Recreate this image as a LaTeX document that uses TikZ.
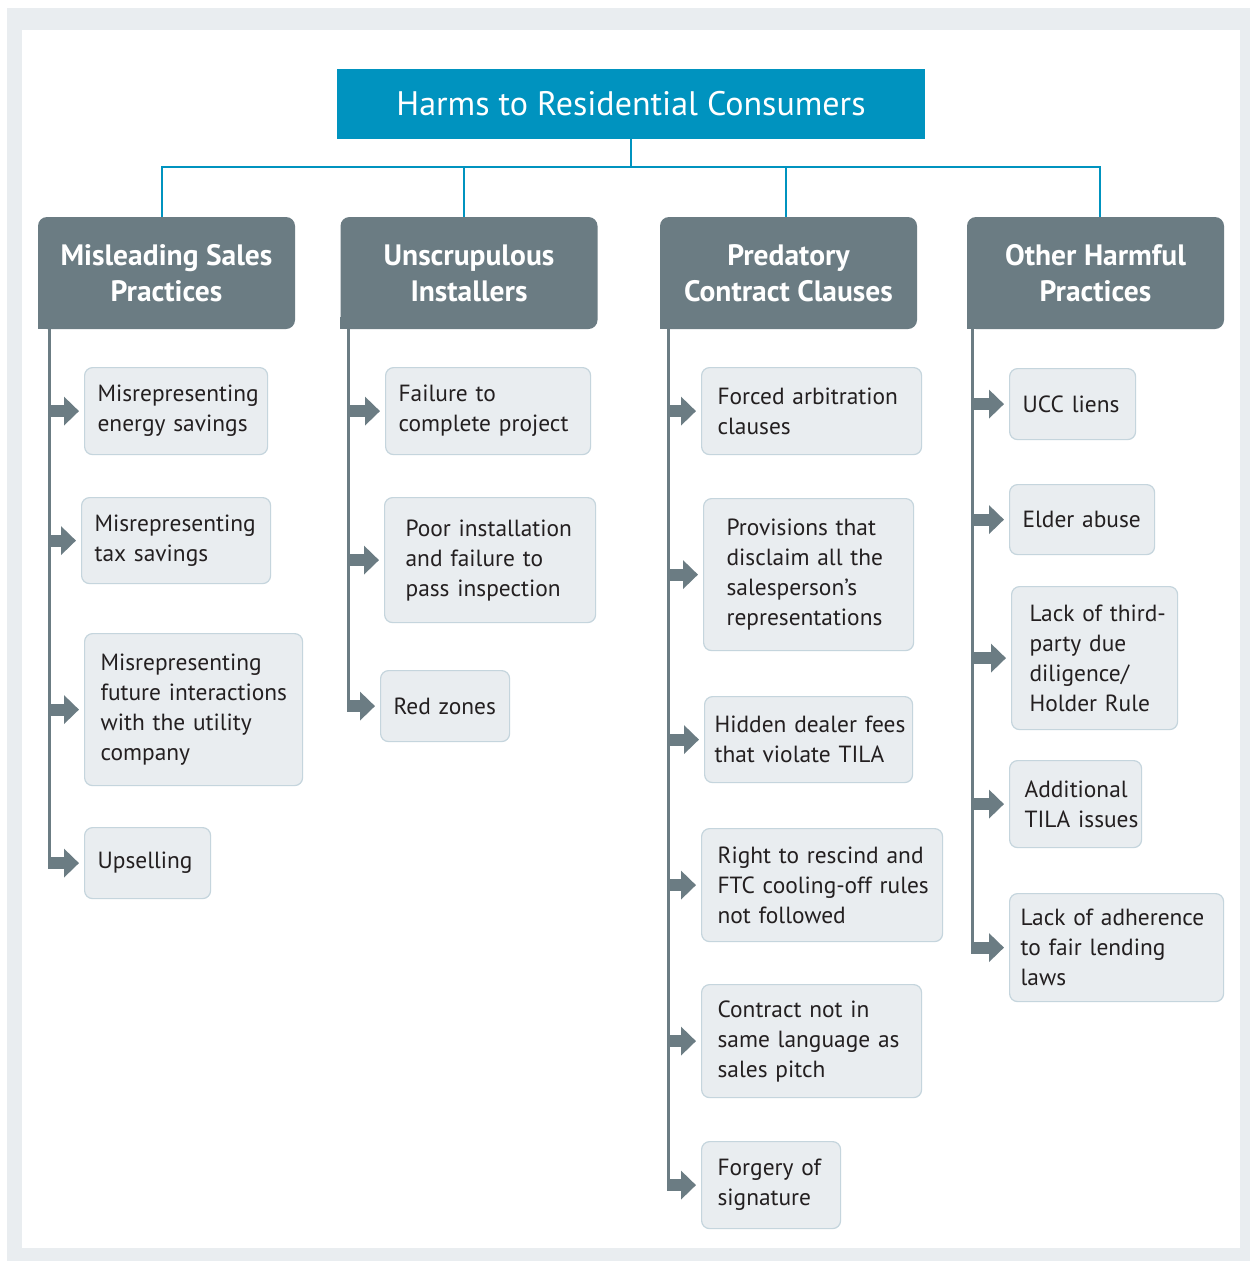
\documentclass[tikz,border=0pt]{standalone}
\usepackage{fontspec}
\setmainfont{PT Sans}
\usetikzlibrary{arrows.meta}

\definecolor{titleblue}{RGB}{0,147,191}
\definecolor{headgray}{RGB}{107,124,131}
\definecolor{leaffill}{RGB}{233,237,240}
\definecolor{leafline}{RGB}{197,213,221}
\definecolor{framegray}{RGB}{233,237,240}
\definecolor{textdark}{RGB}{35,31,32}

\tikzset{
  root/.style={fill=titleblue, text=white, minimum width=588pt, minimum height=70pt,
    font=\fontsize{34}{40}\selectfont},
  head/.style={fill=headgray, text=white, rounded corners=9pt, minimum width=257pt,
    minimum height=112pt, align=center, font=\bfseries\fontsize{29.5}{36}\selectfont},
  % lines are broken by hand only, so let them run a little long instead of wrapping
  leaf/.style={fill=leaffill, draw=leafline, line width=1.2pt, rounded corners=8pt,
    anchor=north west, inner xsep=13pt, text=textdark,
    font=\fontsize{23.4}{30}\selectfont,
    execute at begin node={\rightskip=0pt plus 1fil minus 30pt\linepenalty=5000
      \hyphenpenalty=10000\exhyphenpenalty=10000}},
  bus/.style={draw=titleblue, line width=2.5pt},
  stem/.style={draw=headgray, line width=3pt},
  feed/.style={draw=headgray, line width=12pt, -{Triangle[length=15pt,width=28pt]},
    shorten >=5pt},
}

\begin{document}
\begin{tikzpicture}[x=1pt, y=-1pt]
  \useasboundingbox (0,0) rectangle (1250,1261);
  \fill[framegray] (7,8) rectangle (1250,1261);
  \fill[white] (22,30) rectangle (1240,1248);

  \node[root] (root) at (631,104) {Harms to Residential Consumers};

  \node[head] (h1) at (166.5,273) {Misleading Sales\\Practices};
  \node[head] (h2) at (469,273) {Unscrupulous\\Installers};
  \node[head] (h3) at (788.5,273) {Predatory\\Contract Clauses};
  \node[head] (h4) at (1095.5,273) {Other Harmful\\Practices};

  % square corner where the stem leaves each header
  \fill[headgray] (h1.south west) rectangle ++(12,-12);
  \fill[headgray] (h2.south west) rectangle ++(12,-12);
  \fill[headgray] (h3.south west) rectangle ++(12,-12);
  \fill[headgray] (h4.south west) rectangle ++(12,-12);

  \draw[bus] (root.south) -- ++(0,28) -| ([xshift=-4.5pt]h1.north);
  \draw[bus] (root.south) -- ++(0,28) -| ([xshift=-5pt]h2.north);
  \draw[bus] (root.south) -- ++(0,28) -| ([xshift=-2.5pt]h3.north);
  \draw[bus] (root.south) -- ++(0,28) -| ([xshift=4.5pt]h4.north);

  % misleading sales practices
  \node[leaf, text width=157pt, minimum height=87pt] (m1) at (84,367) {Misrepresenting\\energy savings};
  \node[leaf, text width=163pt, minimum height=86pt] (m2) at (81,497) {Misrepresenting\\tax savings};
  \node[leaf, inner xsep=16pt, text width=186pt, minimum height=152pt] (m3) at (84,633) {Misrepresenting\\future interactions\\with the utility\\company};
  \node[leaf, text width=100pt, minimum height=71pt] (m4) at (84,827) {Upselling};

  % unscrupulous installers
  \node[leaf, text width=179pt, minimum height=87pt] (u1) at (385,367) {Failure to\\complete project};
  \node[leaf, inner xsep=21pt, text width=169pt, minimum height=125pt] (u2) at (384,497) {Poor installation\\and failure to\\pass inspection};
  \node[leaf, text width=103pt, minimum height=71pt] (u3) at (380,670) {Red zones};

  % predatory contract clauses
  \node[leaf, inner xsep=16pt, text width=188pt, minimum height=87pt] (p1) at (701,367) {Forced arbitration\\clauses};
  \node[leaf, inner xsep=23pt, text width=164pt, minimum height=152pt] (p2) at (703,498) {Provisions that\\disclaim all the\\salesperson's\\representations};
  \node[leaf, inner xsep=10pt, text width=188pt, minimum height=86pt] (p3) at (704,696) {Hidden dealer fees\\that violate TILA};
  \node[leaf, inner xsep=16pt, text width=209pt, minimum height=113pt] (p4) at (701,828) {Right to rescind and\\FTC cooling-off rules\\not followed};
  \node[leaf, inner xsep=16pt, text width=188pt, minimum height=113pt] (p5) at (701,984) {Contract not in\\same language as\\sales pitch};
  \node[leaf, inner xsep=16pt, text width=107pt, minimum height=87pt] (p6) at (701,1141) {Forgery of\\signature};

  % other harmful practices
  \node[leaf, text width=100pt, minimum height=71pt] (o1) at (1009,368) {UCC liens};
  \node[leaf, text width=119pt, minimum height=70pt] (o2) at (1009,484) {Elder abuse};
  \node[leaf, inner xsep=18pt, text width=130pt, minimum height=143pt] (o3) at (1011,586) {Lack of third-\\party due\\diligence/\\Holder Rule};
  \node[leaf, inner xsep=15pt, text width=102pt, minimum height=87pt] (o4) at (1009,760) {Additional\\TILA issues};
  \node[leaf, inner xsep=11pt, text width=192pt, minimum height=108pt] (o5) at (1009,893) {Lack of adherence\\to fair lending\\laws};

  \coordinate (s1) at ([xshift=11.5pt]h1.south west);
  \coordinate (s2) at ([xshift=8pt]h2.south west);
  \coordinate (s3) at ([xshift=8.5pt]h3.south west);
  \coordinate (s4) at ([xshift=6pt]h4.south west);

  \draw[stem] (s1) -- ([yshift=-6pt]s1 |- m4.west);
  \draw[stem] (s2) -- ([yshift=-6pt]s2 |- u3.west);
  \draw[stem] (s3) -- ([yshift=-6pt]s3 |- p6.west);
  \draw[stem] (s4) -- ([yshift=-6pt]s4 |- o5.west);

  \draw[feed] (s1 |- m1.west) -- (m1.west);
  \draw[feed] (s1 |- m2.west) -- (m2.west);
  \draw[feed] (s1 |- m3.west) -- (m3.west);
  \draw[feed] (s1 |- m4.west) -- (m4.west);

  \draw[feed] (s2 |- u1.west) -- (u1.west);
  \draw[feed] (s2 |- u2.west) -- (u2.west);
  \draw[feed] (s2 |- u3.west) -- (u3.west);

  \draw[feed] (s3 |- p1.west) -- (p1.west);
  \draw[feed] (s3 |- p2.west) -- (p2.west);
  \draw[feed] (s3 |- p3.west) -- (p3.west);
  \draw[feed] (s3 |- p4.west) -- (p4.west);
  \draw[feed] (s3 |- p5.west) -- (p5.west);
  \draw[feed] (s3 |- p6.west) -- (p6.west);

  \draw[feed] (s4 |- o1.west) -- (o1.west);
  \draw[feed] (s4 |- o2.west) -- (o2.west);
  \draw[feed] (s4 |- o3.west) -- (o3.west);
  \draw[feed] (s4 |- o4.west) -- (o4.west);
  \draw[feed] (s4 |- o5.west) -- (o5.west);
\end{tikzpicture}
\end{document}
